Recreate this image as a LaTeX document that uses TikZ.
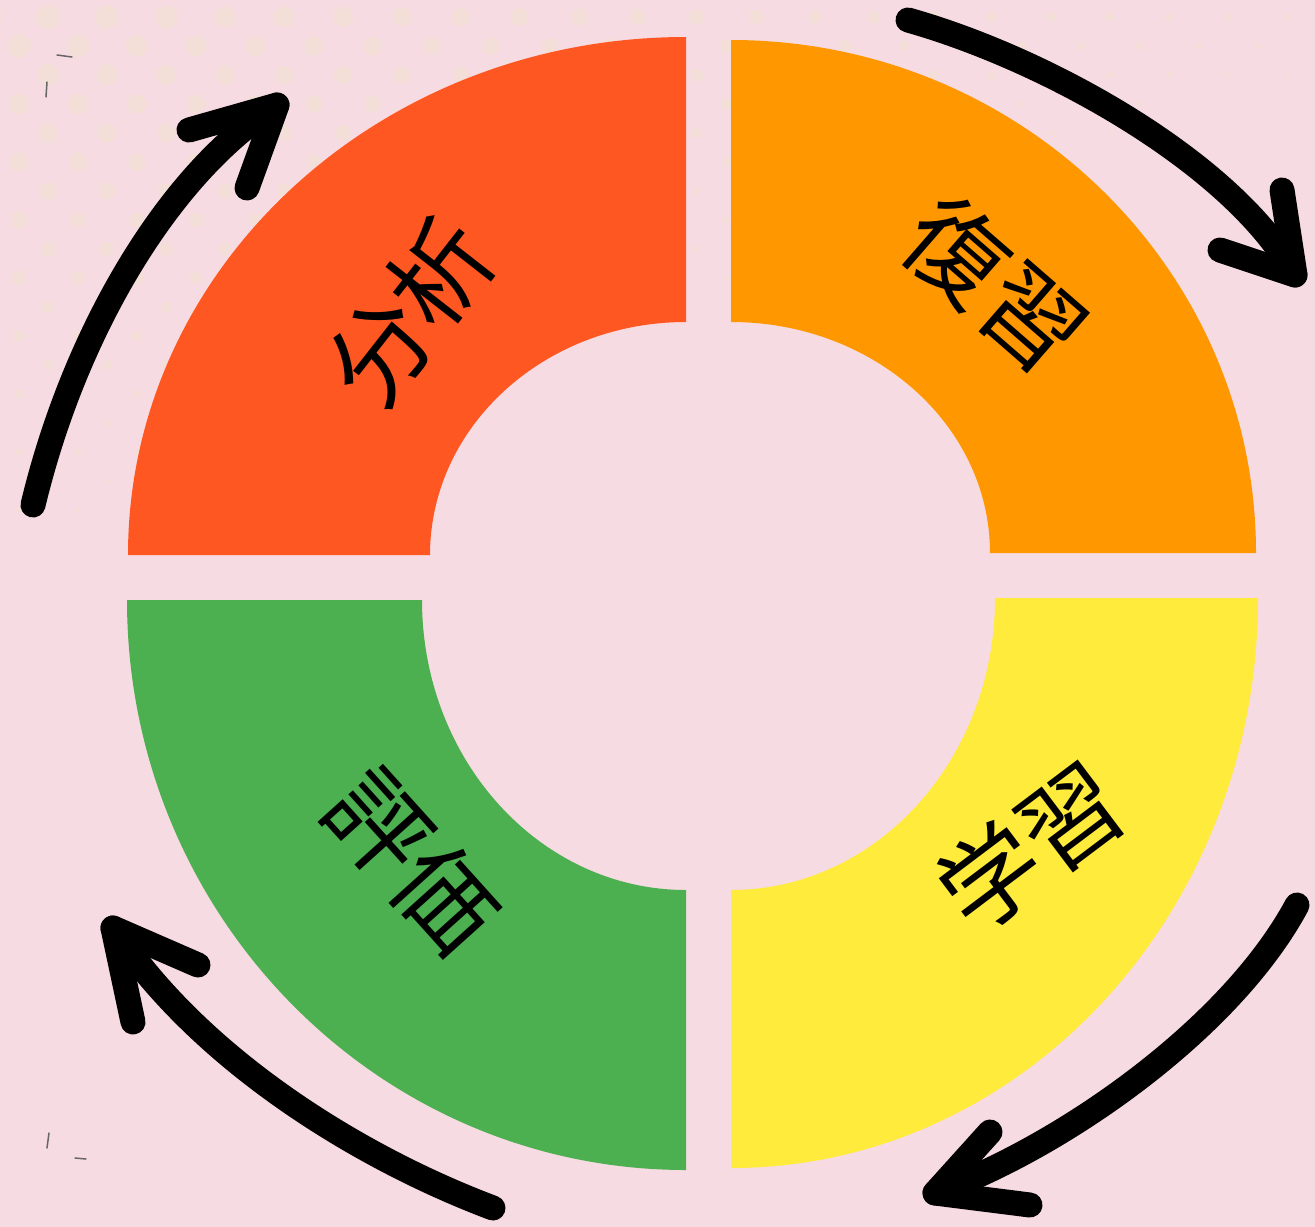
\documentclass[tikz,border=0pt]{standalone}
\usepackage{fontspec}
\newfontfamily\cjk{Noto Sans CJK JP}
\definecolor{bgpink}{HTML}{F7DBE3}
\definecolor{dotcol}{RGB}{243,222,216}
\definecolor{segred}{HTML}{FF5722}
\definecolor{segorange}{HTML}{FF9800}
\definecolor{seggreen}{HTML}{4CAF50}
\definecolor{segyellow}{HTML}{FFEB3B}
\tikzset{
  arrowline/.style={draw=black, line width=0.5cm, line cap=round, line join=round},
  lbl/.style={font=\cjk\fontsize{57}{57}\selectfont, inner sep=0pt, text=black},
  markline/.style={draw=black!60, line width=0.03cm, line cap=round},
}
\begin{document}
\begin{tikzpicture}[x=0.02cm,y=-0.02cm]
\useasboundingbox (0,0) rectangle (1315,1227);
\fill[bgpink] (0,0) rectangle (1315,1227);
% halftone dots
\foreach \j in {0,...,20} {
  \foreach \i in {-1,...,22} {
    \pgfmathsetmacro\xx{19+29*(1-mod(\j,2))+59*\i}
    \pgfmathsetmacro\yy{17+29*\j}
    \pgfmathsetmacro\rr{13-\xx/140-\yy/50}
    \ifdim\rr pt>1pt
      \fill[dotcol] (\xx,\yy) circle[radius=\rr];
    \fi
  }
}
% tiny marks
\draw[markline] (57,55) -- (72,57);
\draw[markline] (47,82) -- (46,97);
\draw[markline] (49,1133) -- (47,1148);
\draw[markline] (75,1158) -- (86,1159);
% segments
\fill[segred] (128,555) arc[start angle=180, end angle=270, x radius=558, y radius=518]
  -- (686,322) arc[start angle=270, end angle=180, x radius=256, y radius=233] -- cycle;
\fill[segorange] (731,40) arc[start angle=270, end angle=360, x radius=525, y radius=513]
  -- (990,553) arc[start angle=360, end angle=270, x radius=259, y radius=231] -- cycle;
\fill[segyellow] (1258,598) arc[start angle=0, end angle=90, x radius=527, y radius=570]
  -- (731,890) arc[start angle=90, end angle=0, x radius=264, y radius=292] -- cycle;
\fill[seggreen] (686,1170) arc[start angle=90, end angle=180, x radius=559, y radius=570]
  -- (422,600) arc[start angle=180, end angle=90, x radius=264, y radius=290] -- cycle;
% labels
\node[lbl, rotate=52] (bunseki) at (410,312) {分析};
\node[lbl, rotate=-41] (fukushu) at (995,285) {復習};
\node[lbl, rotate=-48] (hyoka) at (413,861) {評価};
\node[lbl, rotate=37] (gakushu) at (1031,847) {学習};
% arrows
\coordinate (a1t) at (33,505);
\coordinate (a1h) at (277,105);
\coordinate (a1b1) at (189,130);
\coordinate (a1b2) at (247,188);
\draw[arrowline] (a1t) .. controls (75,330) and (170,172) .. (a1h);
\draw[arrowline] (a1b1) -- (a1h) -- (a1b2);
\coordinate (a2t) at (908,20);
\coordinate (a2h) at (1295,275);
\coordinate (a2b1) at (1282,190);
\coordinate (a2b2) at (1220,250);
\draw[arrowline] (a2t) .. controls (1050,60) and (1235,165) .. (a2h);
\draw[arrowline] (a2b1) -- (a2h) -- (a2b2);
\coordinate (a3t) at (1297,905);
\coordinate (a3h) at (935,1193);
\coordinate (a3b1) at (990,1132);
\coordinate (a3b2) at (1030,1205);
\draw[arrowline] (a3t) .. controls (1230,1030) and (1060,1148) .. (a3h);
\draw[arrowline] (a3b1) -- (a3h) -- (a3b2);
\coordinate (a4t) at (493,1208);
\coordinate (a4h) at (113,928);
\coordinate (a4b1) at (198,965);
\coordinate (a4b2) at (133,1022);
\draw[arrowline] (a4t) .. controls (360,1158) and (200,1060) .. (a4h);
\draw[arrowline] (a4b1) -- (a4h) -- (a4b2);
\end{tikzpicture}
\end{document}
